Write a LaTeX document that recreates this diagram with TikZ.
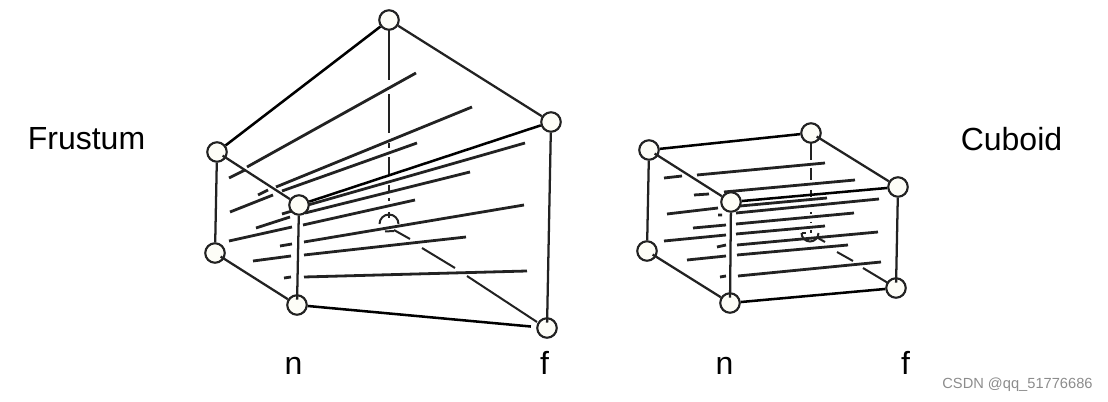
\documentclass[tikz,border=0pt]{standalone}
\usepackage{fontspec}
\setmainfont{Liberation Sans}
\definecolor{ink}{HTML}{222222}
\definecolor{vert}{HTML}{FDFDF7}
\tikzset{
  x=0.75pt,y=-0.75pt,
  vertex/.style={circle,draw=ink,fill=vert,line width=1.6pt,minimum size=19.5*0.75pt,inner sep=0pt},
  edge/.style={draw=ink,line width=1.7pt},
  heavy/.style={draw=black,line width=1.9pt},
  plane/.style={draw=ink,line width=2.1pt},
  hid/.style={draw=ink,line width=1.5pt},
  lab/.style={font=\fontsize{24}{28}\selectfont,text=black,inner sep=0pt},
  mark text/.style={font=\fontsize{11}{13}\selectfont,text=black!45,inner sep=0pt}
}
\begin{document}
\begin{tikzpicture}
\useasboundingbox (0,0) rectangle (1108,402);
% labels
\node[lab] (tf) at (86.5,139) {Frustum};
\node[lab] (tc) at (1011.5,139) {Cuboid};
\node[lab] (n1) at (293.5,365.5) {n};
\node[lab] (f1) at (544.5,363) {f};
\node[lab] (n2) at (724.5,365.5) {n};
\node[lab] (f2) at (905.5,363) {f};
\node[mark text] (wm) at (1017.5,385) {CSDN @qq\_51776686};
% frustum hidden parts
\draw[hid] (389,30)--(389,80) (389,94)--(389,133) (389,143)--(389,148) (389,157)--(389,175) (389,185)--(389,191) (389,198)--(389,201) (389,212)--(389,218);
\draw[hid] (379.5,224) arc[start angle=180,end angle=360,radius=9.5];
\draw[hid] (385,231.5)--(394,231);
\draw[hid] (394,230)--(410,239) (422,248)--(455,268) (467,276)--(537,322);
% frustum planes
\draw[plane] (229,178)--(245,170) (247,167)--(416,73);
\draw[plane] (258,195)--(268,190) (276,187)--(472,107);
\draw[plane] (230,212)--(273,195) (282,191)--(417,143);
\draw[plane] (282,214)--(292,211) (308,205)--(525,143);
\draw[plane] (256,228)--(290,217) (305,213)--(470,172);
\draw[plane] (229,241)--(292,227) (303,225)--(415,200);
\draw[plane] (280,246)--(292,244) (304,242)--(524,205);
\draw[plane] (253,261)--(291,256) (304,255)--(466,237);
\draw[plane] (284,278)--(291,277) (304,277)--(527,271);
% frustum vertices
\node[vertex] (ft) at (389,20) {};
\node[vertex] (fr) at (551,122) {};
\node[vertex] (fl) at (217,152) {};
\node[vertex] (fn) at (299,205) {};
\node[vertex] (fb) at (215,253) {};
\node[vertex] (fm) at (297,305) {};
\node[vertex] (fq) at (547,328) {};
% frustum edges
\draw[heavy] (ft)--(fl);
\draw[edge] (ft)--(fr);
\draw[heavy] (fn)--(fr);
\draw[edge] (fl)--(fb);
\draw[edge,shorten <=5pt] (fl.center)--(fn);
\draw[edge,shorten <=5pt] (fb.center)--(fm);
\draw[edge,shorten >=4pt] (fn)--(fm.center);
\draw[edge,shorten >=4pt] (fr)--(fq.center);
\draw[heavy,shorten >=4pt] (fm)--(fq);
% cuboid hidden parts
\draw[hid] (811,143)--(811,160) (811,168)--(811,180) (811,190)--(811,197) (810.5,212)--(810.5,214) (810.5,222)--(810.5,223) (810.5,230)--(810.5,233);
\draw[hid] (801.5,233) arc[start angle=180,end angle=0,radius=8.5];
\draw[hid] (801.5,233)--(806,233);
\draw[hid] (818,238)--(825,242) (837,252)--(853,261) (863,268)--(888,283);
% cuboid planes
\draw[plane] (664,178)--(682,176) (697,175)--(825,163);
\draw[plane] (694,195)--(709,194) (724,192)--(855,180);
\draw[plane] (667,214)--(718,208) (740,206)--(827,198);
\draw[plane] (718,215)--(722,215) (736,213)--(879,199);
\draw[plane] (693,228)--(726,225) (736,224)--(854,213);
\draw[plane] (664,241)--(726,235) (736,234)--(825,226);
\draw[plane] (717,247)--(726,245) (737,245)--(878,232);
\draw[plane] (687,260)--(726,256) (737,255)--(848,245);
\draw[plane] (720,277)--(726,276) (738,276)--(881,262);
% cuboid vertices
\node[vertex] (ca) at (811,133) {};
\node[vertex] (cr) at (898,187) {};
\node[vertex] (cl) at (649,150) {};
\node[vertex] (cn) at (731,202) {};
\node[vertex] (cb) at (647,251) {};
\node[vertex] (cm) at (730,303) {};
\node[vertex] (cq) at (896,288) {};
% cuboid edges
\draw[heavy] (cl)--(ca);
\draw[edge,shorten <=5pt] (ca.center)--(cr);
\draw[heavy] (cn)--(cr);
\draw[edge] (cl)--(cb);
\draw[edge,shorten <=5pt] (cl.center)--(cn);
\draw[edge,shorten <=5pt] (cb.center)--(cm);
\draw[edge,shorten >=4pt] (cn)--(cm.center);
\draw[edge,shorten >=4pt] (cr)--(cq.center);
\draw[heavy] (cm)--(cq);
\end{tikzpicture}
\end{document}
